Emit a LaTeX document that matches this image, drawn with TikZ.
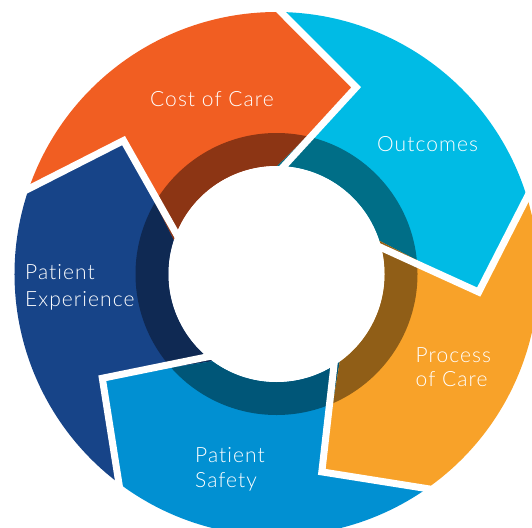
\documentclass[tikz,border=0pt]{standalone}
\usepackage{fontspec}
\setmainfont{Lato}[UprightFont={* Light}, Ligatures={NoCommon}, LetterSpace=5]
\definecolor{costc}{HTML}{F15E22}
\definecolor{costd}{HTML}{8C3514}
\definecolor{outc}{HTML}{00BBE5}
\definecolor{outd}{HTML}{006E87}
\definecolor{procc}{HTML}{F8A229}
\definecolor{procd}{HTML}{905E17}
\definecolor{safec}{HTML}{0190D2}
\definecolor{safed}{HTML}{005678}
\definecolor{expc}{HTML}{174488}
\definecolor{expd}{HTML}{0F2953}
\newcommand\ringseg[3]{%
  \pgfmathsetmacro\segB{#1-72}%
  \fill[#2] (#1:262) arc[start angle=#1, end angle=\segB, radius=262]
    -- (\segB-23:203) -- (\segB:108) arc[start angle=\segB, end angle=#1, radius=108]
    -- (#1-23:203) -- cycle;
  \begin{scope}
    \clip (#1:262) arc[start angle=#1, end angle=\segB, radius=262]
      -- (\segB-23:203) -- (\segB:108) arc[start angle=\segB, end angle=#1, radius=108]
      -- (#1-23:203) -- cycle;
    \fill[#3] (0,0) circle[radius=141];
  \end{scope}}
\tikzset{
  lbl/.style={text=white, font=\fontsize{21}{25}\selectfont, inner sep=0pt, align=left},
  gap/.style={white, line width=7pt, line join=miter, line cap=butt}
}
\begin{document}
\begin{tikzpicture}[x=1pt,y=1pt]
\useasboundingbox (0,0) rectangle (532,-527);
\clip (0,0) rectangle (532,-527);
\begin{scope}[shift={(276.5,-274)}]
  \ringseg{89.9}{outc}{outd}
  \ringseg{161.9}{costc}{costd}
  \ringseg{233.9}{expc}{expd}
  \ringseg{305.9}{safec}{safed}
  \ringseg{377.9}{procc}{procd}
  \foreach \b in {17.9,89.9,161.9,233.9,305.9}{
    \draw[gap] (\b:266) -- (\b-23:203) -- (\b:100);
  }
  \fill[white] (0,0) circle[radius=108];
\end{scope}
\node[lbl, anchor=base west] (cost) at (150,-106) {Cost of Care};
\node[lbl, anchor=base west] (outcomes) at (377,-151) {Outcomes};
\node[lbl, anchor=west] (experience) at (25,-287.5) {Patient\\[1.6pt]Experience};
\node[lbl, anchor=west] (process) at (415.5,-367) {Process\\[-1.7pt]of Care};
\node[lbl, anchor=west] (safety) at (195,-469.5) {Patient\\[-0.5pt]Safety};
\end{tikzpicture}
\end{document}
